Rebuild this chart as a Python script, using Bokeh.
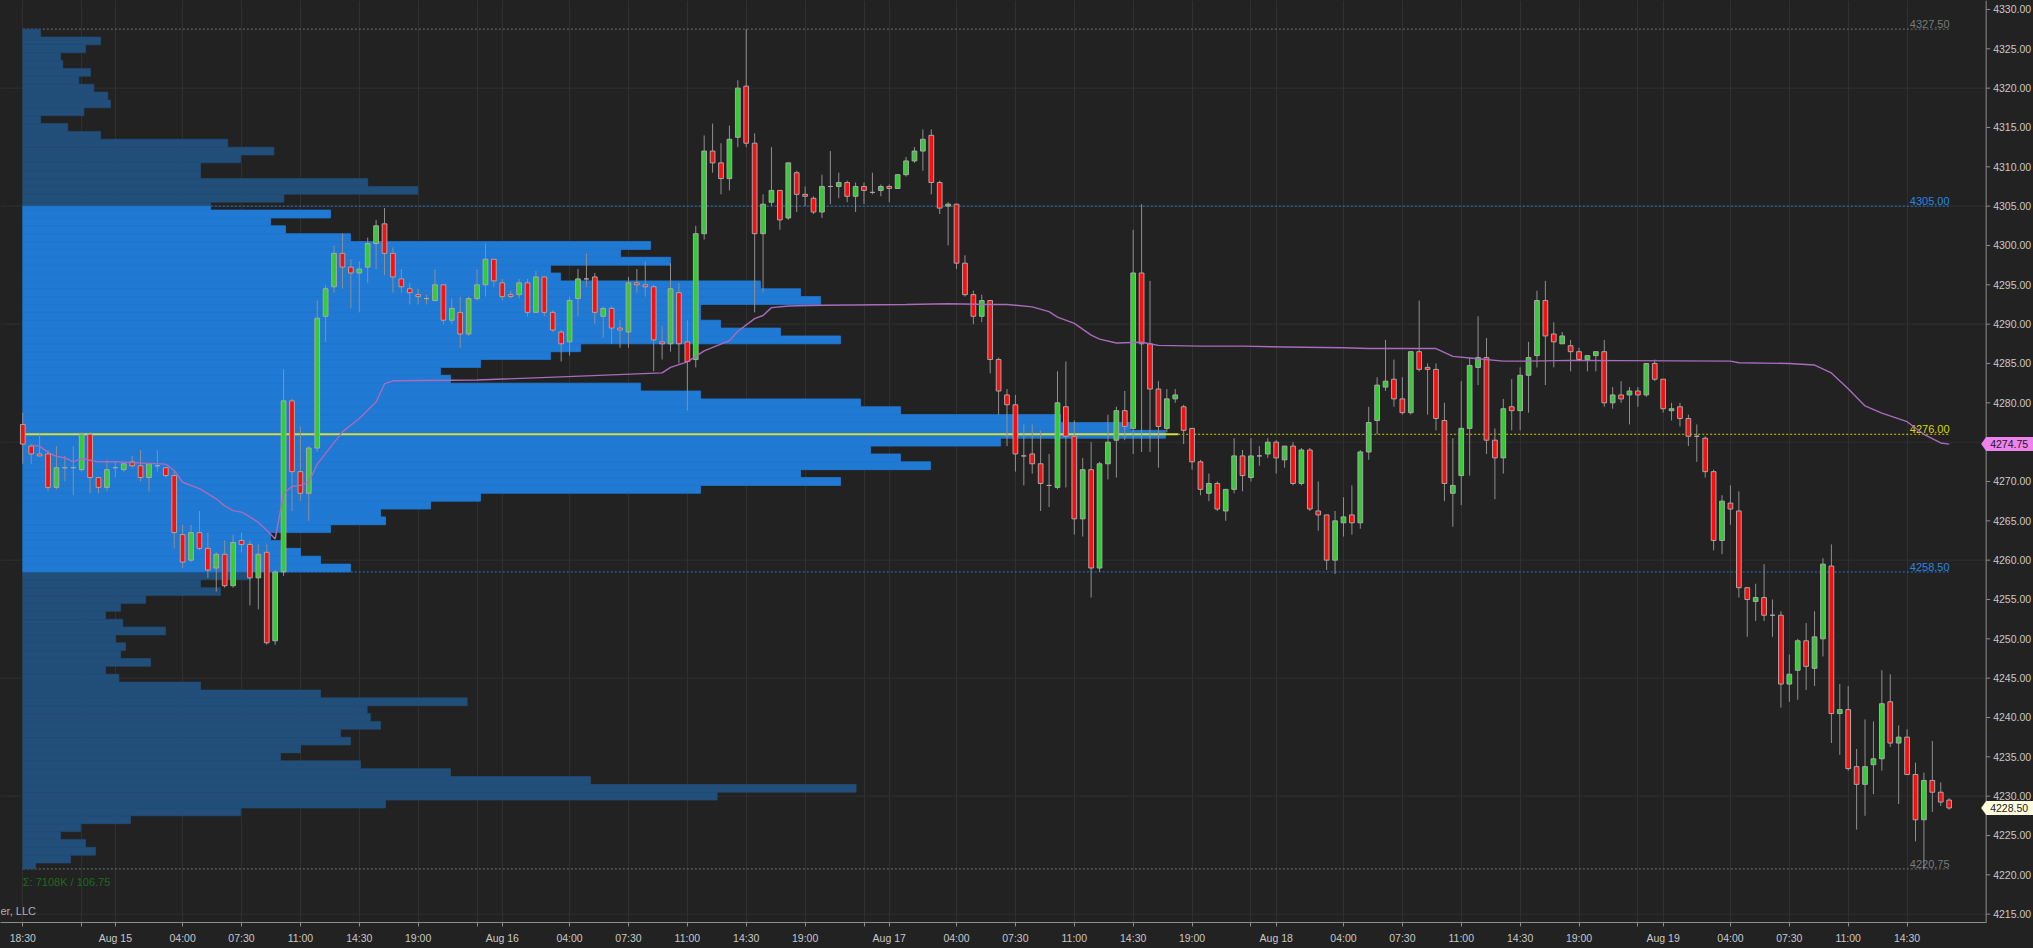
from bokeh.plotting import figure
from bokeh.models import ColumnDataSource, FixedTicker, Label, Range1d, GlobalInlineStyleSheet
from bokeh.embed import file_html
from bokeh.resources import INLINE
from bokeh.core.properties import value

# ---------------- data (30-minute bars, bar 0 = Aug 14 18:30) ----------------
bar_open = [
4277.25,4274.5,4273.5,4273.5,4269.25,4271.75,4271.75,4271.5,4276.0,4270.5,
4269.25,4271.75,4271.5,4272.5,4272.0,4270.5,4272.0,4271.75,4270.75,4263.25,
4260.0,4263.5,4261.5,4259.0,4260.75,4256.75,4262.5,4262.0,4257.75,4261.0,
4249.75,4258.5,4280.25,4271.25,4268.5,4274.25,4291.0,4294.75,4299.0,4297.25,
4296.5,4297.25,4300.25,4302.75,4299.0,4295.75,4294.5,4293.75,4293.25,4293.0,
4295.0,4290.5,4291.5,4288.75,4293.25,4295.0,4298.25,4295.25,4293.75,4293.75,
4295.25,4291.5,4296.0,4291.5,4289.0,4287.75,4293.25,4295.75,4296.0,4291.0,
4292.0,4289.5,4289.0,4295.25,4295.0,4294.75,4287.75,4287.5,4294.0,4287.75,
4285.5,4301.5,4312.0,4310.5,4308.5,4313.75,4320.25,4313.0,4301.5,4305.5,
4307.0,4303.5,4309.25,4306.5,4306.0,4304.25,4307.5,4307.5,4308.0,4306.25,
4307.5,4306.75,4307.0,4307.5,4307.25,4309.0,4310.75,4312.0,4314.0,4308.0,
4305.0,4305.25,4297.75,4293.75,4291.0,4293.0,4285.5,4281.0,4279.75,4273.25,
4273.5,4272.25,4269.5,4269.25,4279.5,4275.75,4265.25,4271.5,4259.0,4272.25,
4275.25,4279.0,4276.75,4296.5,4287.5,4281.75,4276.75,4280.5,4279.5,4276.75,
4272.5,4268.5,4269.75,4266.25,4269.0,4273.25,4270.5,4273.25,4273.5,4275.0,
4272.75,4274.5,4269.75,4274.0,4266.25,4265.75,4260.0,4264.75,4265.75,4264.75,
4273.75,4277.75,4282.0,4283.0,4280.5,4278.75,4286.5,4284.5,4284.25,4277.75,
4268.5,4270.75,4276.75,4284.5,4285.75,4275.25,4273.0,4279.5,4279.0,4283.5,
4286.0,4293.0,4288.75,4287.5,4287.25,4286.5,4285.5,4286.0,4286.5,4280.0,
4281.0,4281.0,4281.5,4281.0,4285.0,4283.0,4279.0,4279.5,4278.0,4275.75,
4275.5,4271.25,4262.5,4267.25,4266.25,4256.5,4254.75,4255.25,4253.0,4253.0,
4244.25,4246.0,4249.75,4246.25,4250.0,4259.25,4240.5,4241.0,4233.75,4231.5,
4234.0,4234.75,4242.0,4236.75,4237.5,4232.75,4227.0,4232.0,4230.5,4229.5]
bar_high = [
4278.75,4274.75,4276.0,4274.0,4274.5,4273.25,4274.5,4276.25,4276.25,4270.5,
4272.75,4272.5,4272.25,4273.25,4274.0,4272.25,4274.0,4271.75,4271.5,4264.5,
4264.5,4266.25,4263.5,4261.0,4262.5,4263.25,4263.5,4262.5,4262.0,4262.0,
4258.75,4284.25,4280.5,4277.0,4274.5,4293.0,4295.0,4300.0,4301.5,4298.25,
4298.0,4301.0,4303.25,4304.75,4299.75,4297.0,4295.25,4294.5,4293.75,4297.0,
4295.0,4293.25,4293.5,4293.5,4297.0,4300.25,4298.25,4295.75,4294.25,4295.75,
4295.75,4296.75,4296.0,4291.75,4289.25,4293.5,4297.0,4299.0,4296.5,4292.25,
4292.25,4290.5,4296.0,4297.0,4298.0,4295.0,4289.75,4297.75,4295.25,4290.5,
4302.5,4314.0,4315.5,4313.0,4315.25,4321.0,4327.5,4314.25,4306.5,4312.5,
4307.0,4310.5,4309.5,4307.5,4306.25,4309.0,4312.0,4309.25,4308.25,4308.0,
4308.0,4309.25,4307.75,4307.75,4309.0,4311.25,4312.5,4314.75,4314.75,4308.25,
4305.5,4305.25,4298.75,4294.25,4293.75,4293.0,4285.75,4281.75,4281.0,4277.25,
4277.25,4276.5,4273.5,4284.0,4285.25,4277.75,4273.0,4275.0,4272.5,4278.5,
4279.5,4281.5,4302.0,4305.25,4295.5,4282.75,4281.75,4281.75,4279.75,4276.75,
4272.75,4271.0,4270.0,4269.0,4275.5,4274.0,4275.5,4274.5,4275.5,4275.25,
4274.5,4275.0,4274.25,4274.25,4270.0,4265.75,4266.25,4268.0,4269.5,4274.0,
4279.5,4283.25,4288.0,4285.5,4283.25,4286.5,4293.0,4285.0,4285.0,4280.0,
4275.5,4282.75,4285.75,4291.0,4288.25,4276.75,4280.5,4283.0,4284.5,4287.75,
4294.25,4295.5,4290.25,4289.0,4288.0,4287.0,4286.0,4286.5,4288.0,4282.0,
4282.75,4282.0,4282.0,4285.0,4285.5,4283.0,4280.0,4280.0,4278.5,4277.25,
4275.75,4271.5,4268.25,4269.5,4268.75,4256.5,4257.0,4259.5,4255.0,4253.5,
4248.0,4250.0,4252.0,4253.5,4260.25,4262.0,4244.25,4244.0,4236.0,4239.75,
4239.5,4246.0,4245.5,4239.0,4238.5,4234.25,4233.0,4237.0,4231.75,4229.75]
bar_low = [
4272.25,4272.25,4273.25,4268.75,4269.0,4270.0,4268.25,4271.25,4268.5,4268.5,
4268.75,4270.5,4271.25,4271.75,4270.0,4268.75,4271.25,4270.5,4261.5,4259.0,
4259.75,4261.25,4257.75,4256.0,4256.5,4256.5,4261.0,4254.25,4253.75,4249.25,
4249.25,4258.0,4266.25,4267.5,4265.0,4273.75,4287.75,4294.0,4294.5,4292.0,
4291.5,4295.25,4297.0,4296.25,4294.0,4294.0,4292.5,4292.5,4292.5,4293.0,
4290.0,4290.0,4287.0,4288.5,4293.0,4293.5,4294.75,4293.0,4293.25,4293.25,
4291.0,4291.5,4291.0,4289.0,4285.25,4286.0,4291.0,4294.75,4290.0,4288.25,
4287.5,4287.0,4287.0,4294.0,4293.5,4284.0,4285.5,4286.5,4285.0,4279.0,
4284.5,4300.75,4309.25,4306.5,4307.0,4312.5,4312.5,4291.5,4294.0,4305.0,
4302.0,4303.25,4304.25,4305.0,4304.0,4303.5,4305.25,4306.0,4305.5,4304.25,
4305.25,4306.5,4306.25,4305.5,4307.25,4308.75,4310.5,4309.5,4306.5,4304.0,
4300.0,4297.0,4293.5,4290.0,4290.25,4283.75,4278.5,4274.5,4271.25,4269.5,
4271.0,4266.25,4266.75,4269.0,4269.25,4263.25,4263.0,4255.25,4258.5,4270.25,
4270.5,4275.25,4273.5,4273.75,4273.75,4271.75,4276.25,4280.0,4274.75,4271.5,
4268.25,4267.5,4266.25,4265.0,4268.5,4268.75,4270.0,4272.0,4273.0,4271.0,
4271.75,4269.5,4269.5,4266.25,4263.75,4258.75,4258.25,4263.0,4263.25,4264.0,
4272.75,4276.0,4281.5,4279.5,4278.5,4278.5,4284.0,4278.5,4276.5,4267.5,
4264.25,4267.0,4270.75,4282.25,4273.5,4267.75,4271.0,4276.5,4276.5,4278.75,
4284.5,4282.25,4284.5,4287.5,4284.0,4285.5,4284.0,4284.0,4279.5,4279.25,
4280.0,4277.25,4279.5,4280.75,4282.75,4278.75,4277.75,4277.0,4274.5,4272.5,
4270.5,4261.25,4260.75,4264.5,4255.25,4250.25,4252.25,4252.25,4250.25,4241.25,
4242.0,4242.25,4243.5,4244.0,4247.75,4236.75,4235.25,4233.25,4225.75,4227.5,
4230.25,4233.25,4236.25,4229.0,4232.75,4224.25,4220.75,4228.0,4228.75,4228.25]
bar_close = [
4274.75,4273.5,4273.25,4269.25,4271.75,4271.75,4271.75,4276.0,4270.5,4269.25,
4271.5,4271.75,4272.25,4272.0,4270.5,4272.25,4272.0,4270.75,4263.5,4259.75,
4263.5,4261.5,4258.75,4260.75,4256.75,4262.25,4262.0,4257.75,4260.75,4249.5,
4258.5,4280.25,4271.25,4268.5,4274.25,4290.75,4294.5,4299.0,4297.25,4296.5,
4297.0,4300.25,4302.5,4299.0,4296.0,4294.75,4294.0,4293.5,4293.25,4295.0,
4290.5,4292.0,4288.75,4293.25,4295.0,4298.25,4295.5,4293.5,4293.5,4295.25,
4291.5,4296.0,4291.5,4289.25,4287.5,4293.0,4295.75,4295.75,4291.5,4292.0,
4289.5,4289.25,4295.25,4295.0,4294.75,4288.0,4287.5,4294.5,4287.5,4285.25,
4301.5,4312.0,4310.5,4308.5,4313.5,4320.0,4313.0,4301.5,4305.25,4307.0,
4303.25,4310.5,4306.5,4306.25,4304.25,4307.5,4307.5,4308.0,4306.25,4307.5,
4307.0,4306.75,4307.5,4307.25,4309.0,4310.75,4312.0,4313.5,4308.0,4304.75,
4305.25,4297.75,4293.75,4291.0,4293.0,4285.5,4281.5,4279.75,4273.5,4273.25,
4272.25,4269.75,4269.5,4280.0,4275.75,4265.25,4271.5,4259.0,4272.25,4275.0,
4279.0,4277.0,4296.5,4287.5,4281.75,4277.0,4280.5,4281.0,4276.5,4272.5,
4269.0,4269.75,4266.5,4269.0,4273.25,4270.75,4273.25,4273.25,4275.0,4273.0,
4274.5,4269.75,4274.0,4266.5,4265.75,4260.0,4265.0,4265.5,4264.75,4273.75,
4277.5,4282.25,4282.75,4280.5,4278.75,4286.5,4284.25,4284.25,4278.0,4269.75,
4269.5,4276.75,4284.75,4285.75,4275.25,4273.0,4279.25,4279.0,4283.5,4285.75,
4293.0,4288.5,4287.75,4288.5,4286.5,4285.5,4286.0,4286.5,4280.0,4281.0,
4280.5,4281.5,4281.0,4285.0,4283.0,4279.25,4279.25,4278.0,4275.75,4275.75,
4271.25,4262.5,4267.5,4266.5,4256.5,4255.0,4255.25,4253.0,4253.0,4244.25,
4245.5,4249.75,4246.5,4250.25,4259.5,4240.5,4241.0,4233.5,4231.5,4233.75,
4234.75,4241.75,4236.75,4237.5,4232.75,4227.0,4232.0,4230.5,4229.25,4228.5]

# x-axis ticks (bar index) and their labels
tick_idx = [0, 7, 11, 19, 26, 33, 40, 47, 54, 57, 65, 72, 79, 86, 93, 100, 103, 111, 118, 125,
            132, 139, 146, 149, 157, 164, 171, 178, 185, 192, 195, 203, 210, 217, 224]
tick_text = ["18:30", "", "Aug 15", "04:00", "07:30", "11:00", "14:30", "19:00", "", "Aug 16",
             "04:00", "07:30", "11:00", "14:30", "19:00", "", "Aug 17", "04:00", "07:30", "11:00",
             "14:30", "19:00", "", "Aug 18", "04:00", "07:30", "11:00", "14:30", "19:00", "",
             "Aug 19", "04:00", "07:30", "11:00", "14:30"]

# VWAP (bar index, price)
vwap_idx = [1,2,3,4,5,6,7,8,9,11,17,18,19,21,23,24,25,26,27,28,29,30,31,32,33,34,35,38,40,42,43,44,
            54,64,76,77,79,81,84,85,87,88,89,91,95,105,110,115,117,120,122,123,125,127,128,130,133,
            135,140,145,150,157,160,168,170,172,176,179,184,203,204,210,213,215,217,219,221,224,226,228,229]
vwap_val = [4274.6,4274.5,4273.7,4273.2,4273.0,4272.5,4272.9,4272.7,4272.5,4272.5,4272.2,4271.4,4269.9,
            4269.1,4267.8,4266.9,4266.3,4266.1,4265.5,4264.8,4263.8,4262.7,4268.4,4269.4,4269.5,4269.9,
            4272.2,4276.3,4278.0,4280.1,4282.4,4282.8,4282.9,4283.3,4283.8,4284.5,4285.2,4286.6,4287.9,
            4289.1,4290.7,4291.1,4292.1,4292.3,4292.4,4292.5,4292.6,4292.5,4292.5,4292.2,4291.6,4290.9,
            4290.1,4288.6,4288.1,4287.6,4287.7,4287.3,4287.2,4287.2,4287.1,4287.0,4286.9,4286.9,4285.9,
            4285.7,4285.3,4285.3,4285.4,4285.3,4285.1,4285.0,4284.8,4283.8,4281.8,4279.6,4278.7,4277.6,
            4276.0,4274.9,4274.75]

# volume profile: 1-point buckets (center price) and volume in K contracts
profile_price = list(range(4221, 4328))
profile_vol = [
2.3,8.6,13.1,11.3,6.8,10.4,19.4,39.2,65.3,125.0,
150.0,102.2,77.0,60.8,46.4,50.0,59.0,57.2,64.4,62.6,
62.0,80.0,53.6,32.0,17.3,14.9,23.0,17.6,18.5,16.7,
25.7,18.0,14.9,17.6,22.1,35.6,32.0,41.0,59.0,53.6,
50.0,46.4,44.6,55.4,65.3,64.4,73.4,82.4,122.0,147.2,
140.0,163.4,158.0,152.6,176.0,205.7,199.4,186.8,158.0,150.8,
122.0,111.2,77.0,75.2,82.4,95.0,100.4,147.2,136.4,125.6,
122.0,122.0,143.6,140.0,132.8,96.8,95.0,116.6,107.6,113.0,
59.0,47.3,44.6,55.4,33.8,47.0,71.1,62.1,32.0,32.0,
39.2,45.2,36.9,14.0,8.1,3.2,11.0,15.8,15.3,12.8,
10.1,12.2,7.2,6.8,11.3,14.0,3.2]
profile_high = 4327.50
profile_low = 4220.75
poc = 4276.00
va_high = 4305.00
va_low = 4258.50
last_price = 4228.50
vwap_last = 4274.75
price_ticks = [4215 + 5 * k for k in range(24)]
grid_prices = [4215 + 15 * k for k in range(8)]

# ---------------- figure ----------------
BG = "#222222"
FONT = "Liberation Sans"
FS = "10.5px"
AXC = "#8c8c8c"
n = len(bar_open)
idx = list(range(n))
last_i = idx[-1]

W, H = 2033, 948
PPB = 8.412                     # pixels per bar
X0 = -22.3 / PPB                # visible bar-index range (frame spans the whole width)
X1 = X0 + W / PPB
AX = 233.4                      # bar index where the price scale starts
Y0, Y1 = 4213.94, 4331.14

p = figure(width=W, height=H, output_backend="svg", toolbar_location=None,
           x_range=Range1d(X0, X1), y_range=Range1d(Y0, Y1),
           y_axis_location=None, min_border_left=0, min_border_top=0,
           min_border_right=0, min_border_bottom=26,
           background_fill_color=BG, border_fill_color=BG, outline_line_color=None)
p.stylesheets = [GlobalInlineStyleSheet(css="body { background: #222222; }")]

xa = p.xaxis[0]
xa.axis_line_color = AXC
xa.major_tick_line_color = AXC
xa.major_tick_out = 4
xa.major_tick_in = 0
xa.minor_tick_out = 0
xa.minor_tick_in = 0
xa.major_label_text_color = "#c8c8c8"
xa.major_label_text_font = FONT
xa.major_label_text_font_size = FS
xa.major_label_standoff = 5
xa.bounds = (X0, AX)
xa.ticker = FixedTicker(ticks=tick_idx)
xa.major_label_overrides = {t: s for t, s in zip(tick_idx, tick_text)}

p.xgrid.grid_line_color = "#303030"
p.ygrid.visible = False
p.segment(x0=[X0] * len(grid_prices), x1=[AX] * len(grid_prices), y0=grid_prices, y1=grid_prices,
          line_color="#303030", line_width=1)

# reference lines (under the profile)
ref_levels = [profile_high, va_high, va_low, profile_low]
ref_colors = ["#707070", "#1f78d0", "#1f78d0", "#707070"]
p.segment(x0=[0] * 4, x1=[last_i] * 4, y0=ref_levels, y1=ref_levels,
          line_color=ref_colors, line_width=1, line_dash="2 2")

# profile
bars_per_k = 1.0 / 0.18 / PPB
prof_right = [v * bars_per_k for v in profile_vol]
prof_bot = [max(c - 0.5, profile_low) for c in profile_price]
prof_top = [min(c + 0.5, profile_high) for c in profile_price]
p.quad(left=[0] * len(profile_price), right=prof_right, bottom=prof_bot, top=prof_top,
       fill_color="#214f7a", line_color="#214f7a", line_width=0.6)
va_sel = [i for i, c in enumerate(profile_price) if c + 0.5 > va_low and c - 0.5 < va_high]
p.quad(left=[0] * len(va_sel), right=[prof_right[i] for i in va_sel],
       bottom=[max(profile_price[i] - 0.5, va_low) for i in va_sel],
       top=[min(profile_price[i] + 0.5, va_high) for i in va_sel],
       fill_color="#2079d3", line_color="#2079d3", line_width=0.6)

# POC line: solid across profile, dotted to the right
poc_end = max(prof_right) + 1.5
p.segment(x0=[0], x1=[poc_end], y0=[poc], y1=[poc], line_color="#d2e03a", line_width=2)
p.segment(x0=[poc_end], x1=[last_i], y0=[poc], y1=[poc], line_color="#d2d200",
          line_width=1, line_dash="2 2")

# level labels
lvl_vals = [profile_high, va_high, poc, va_low, profile_low]
lvl_cols = ["#7a7a7a", "#2a86e0", "#d8d800", "#2a86e0", "#7a7a7a"]
p.text(x=[last_i + 0.05] * 5, y=lvl_vals, text=["%.2f" % v for v in lvl_vals],
       text_color=lvl_cols, text_align="right", text_baseline="bottom",
       text_font=value(FONT), text_font_size="11px", y_offset=-1)

# candles
colors = []
for o, c in zip(bar_open, bar_close):
    colors.append("#33cc33" if c > o else ("#ff0d0d" if c < o else "#a0a0a0"))
src = ColumnDataSource(dict(x=idx, o=bar_open, h=bar_high, l=bar_low, c=bar_close,
                            top=[max(o, c) for o, c in zip(bar_open, bar_close)],
                            bot=[min(o, c) for o, c in zip(bar_open, bar_close)],
                            col=colors))
p.segment(x0="x", x1="x", y0="l", y1="h", source=src, line_color="#8f8f8f", line_width=1)
p.vbar(x="x", width=0.56, top="top", bottom="bot", source=src,
       fill_color="col", line_color="#a8a8a8", line_width=1)

# VWAP
p.line(vwap_idx, vwap_val, line_color="#a96bbb", line_width=1.4)

# price scale on the right (drawn in the frame so the badges can sit on it)
p.segment(x0=[AX], x1=[AX], y0=[Y0], y1=[Y1], line_color=AXC, line_width=1)
p.segment(x0=[AX] * len(price_ticks), x1=[AX + 4 / PPB] * len(price_ticks),
          y0=price_ticks, y1=price_ticks, line_color=AXC, line_width=1)
p.text(x=[AX + 7 / PPB] * len(price_ticks), y=price_ticks,
       text=["%.2f" % t for t in price_ticks], text_color="#c8c8c8",
       text_align="left", text_baseline="middle",
       text_font=value(FONT), text_font_size=FS)

# price badges on the scale
ypp = 922 / (Y1 - Y0)   # pixels per point (only for badge size)
hh = 7 / ypp
badge_vals = [vwap_last, last_price]
badge_cols = ["#ee82ee", "#fffde0"]
xs, ys = [], []
for v in badge_vals:
    xs.append([AX - 5 / PPB, AX, X1, X1, AX])
    ys.append([v, v + hh, v + hh, v - hh, v - hh])
p.patches(xs, ys, fill_color=badge_cols, line_color=None)
p.text(x=[AX + 4 / PPB] * 2, y=badge_vals, text=["%.2f" % v for v in badge_vals],
       text_color="#1a1a1a", text_align="left", text_baseline="middle",
       text_font=value(FONT), text_font_size=FS)

# footer texts
p.add_layout(Label(x=0, y=profile_low - 1.6, text="Σ: 7108K / %.2f" % (profile_high - profile_low),
                   text_align="left", text_baseline="middle", text_color="#1d6b1d",
                   text_font=FONT, text_font_size="11px"))
p.add_layout(Label(x=X0, y=4215.4, text="er, LLC", text_align="left",
                   text_baseline="middle", text_color="#b0b0b0",
                   text_font=FONT, text_font_size="11px"))

open("out.html", "w").write(file_html(p, INLINE))
